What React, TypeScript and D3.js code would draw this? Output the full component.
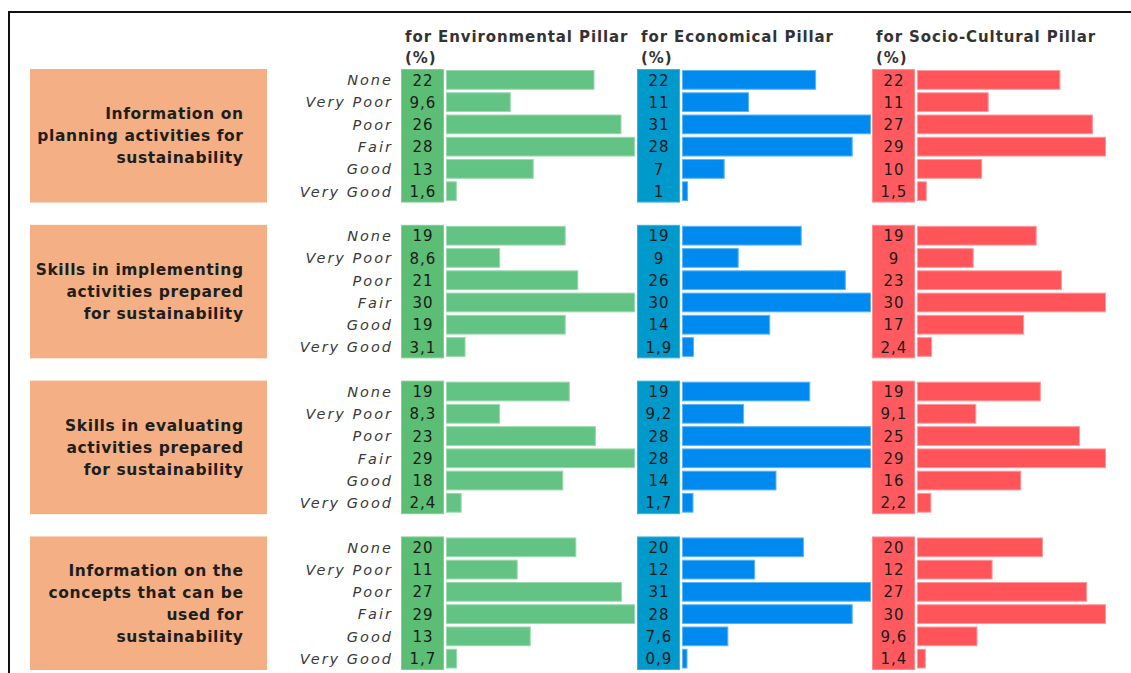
import * as d3 from 'd3';

const categories = ['None', 'Very Poor', 'Poor', 'Fair', 'Good', 'Very Good'];

const questions = [
  ['Information on', 'planning activities for', 'sustainability'],
  ['Skills in implementing', 'activities prepared', 'for sustainability'],
  ['Skills in evaluating', 'activities prepared', 'for sustainability'],
  ['Information on the', 'concepts that can be', 'used for', 'sustainability'],
];

const pillarTitles = ['for Environmental Pillar', 'for Economical Pillar', 'for Socio-Cultural Pillar'];

const environmental = [
  [22, 9.6, 26, 28, 13, 1.6],
  [19, 8.6, 21, 30, 19, 3.1],
  [19, 8.3, 23, 29, 18, 2.4],
  [20, 11, 27, 29, 13, 1.7],
];
const economical = [
  [22, 11, 31, 28, 7, 1],
  [19, 9, 26, 30, 14, 1.9],
  [19, 9.2, 28, 28, 14, 1.7],
  [20, 12, 31, 28, 7.6, 0.9],
];
const socioCultural = [
  [22, 11, 27, 29, 10, 1.5],
  [19, 9, 23, 30, 17, 2.4],
  [19, 9.1, 25, 29, 16, 2.2],
  [20, 12, 27, 30, 9.6, 1.4],
];

const W = 1131;
const H = 673;

// one panel per pillar: value box + data bars (excel style)
const panels = [
  { data: environmental, x: 401, box: '#5cbd74', boxStroke: '#7fcf95', bar: '#63c384', barStroke: '#9bd9ad' },
  { data: economical, x: 637, box: '#0099cc', boxStroke: '#3fb0dd', bar: '#008aef', barStroke: '#5cb6f5' },
  { data: socioCultural, x: 872, box: '#ff5a5f', boxStroke: '#ff8d90', bar: '#ff555a', barStroke: '#ff9a9d' },
];

const boxW = 43;
const barW = 189;
const groupRows = categories.length + 1; // blank row between groups

const fmt = (v: number) => String(v).replace('.', ',');

export default function App() {
  const slots = d3.range(questions.length * groupRows - 1);
  const y = d3.scaleBand<number>().domain(slots).range([69, 670]).padding(0);
  const bw = y.bandwidth();
  const rowY = (g: number, i: number) => y(g * groupRows + i) as number;

  return (
    <svg
      width={W}
      height={H}
      style={{ position: 'absolute', left: 0, top: 0, background: '#fff' }}
      fontFamily="'DejaVu Sans', Verdana, sans-serif"
    >
      <path d={`M9,${H} V12 H${W}`} fill="none" stroke="#111" strokeWidth={2} />

      {pillarTitles.map((t, p) => (
        <g key={t} fill="#333" fontWeight="bold" fontSize={15} letterSpacing={0.9}>
          <text x={panels[p].x + 4} y={42}>{t}</text>
          <text x={panels[p].x + 4} y={63}>(%)</text>
        </g>
      ))}

      {questions.map((lines, g) => {
        const top = rowY(g, 0);
        const bottom = rowY(g, categories.length - 1) + bw;
        const mid = (top + bottom) / 2;
        return (
          <g key={g}>
            <rect x={30} y={top} width={237} height={bottom - top} fill="#f4b084" />
            {lines.map((l, k) => (
              <text
                key={k}
                x={243.6}
                y={mid + (k - (lines.length - 1) / 2) * 22}
                dy="0.35em"
                textAnchor="end"
                fontWeight="bold"
                fontSize={15.5}
                letterSpacing={0.6}
                fill="#1e1e1e"
              >
                {l}
              </text>
            ))}
            {categories.map((c, i) => (
              <text
                key={c}
                x={393}
                y={rowY(g, i) + bw / 2}
                dy="0.35em"
                textAnchor="end"
                fontStyle="italic"
                fontSize={14.5}
                letterSpacing={2}
                fill="#3a3a3a"
              >
                {c}
              </text>
            ))}
            {panels.map((p, pi) => {
              const vals = p.data[g];
              const xs = d3.scaleLinear().domain([0, d3.max(vals) as number]).range([0, barW]);
              return (
                <g key={pi}>
                  <rect
                    x={p.x + 0.5}
                    y={top + 0.5}
                    width={boxW - 1}
                    height={bottom - top - 1}
                    fill={p.box}
                    stroke={p.boxStroke}
                  />
                  {vals.map((v, i) => (
                    <g key={i}>
                      <rect
                        x={p.x + boxW + 2.5}
                        y={rowY(g, i) + 1.5}
                        width={Math.max(xs(v) - 1, 1)}
                        height={bw - 3.5}
                        fill={p.bar}
                        stroke={p.barStroke}
                      />
                      <text
                        x={p.x + boxW / 2 + 0.5}
                        y={rowY(g, i) + bw / 2}
                        dy="0.36em"
                        textAnchor="middle"
                        fontSize={15}
                        letterSpacing={1}
                        fill="#1a1a1a"
                      >
                        {fmt(v)}
                      </text>
                    </g>
                  ))}
                </g>
              );
            })}
          </g>
        );
      })}
    </svg>
  );
}
